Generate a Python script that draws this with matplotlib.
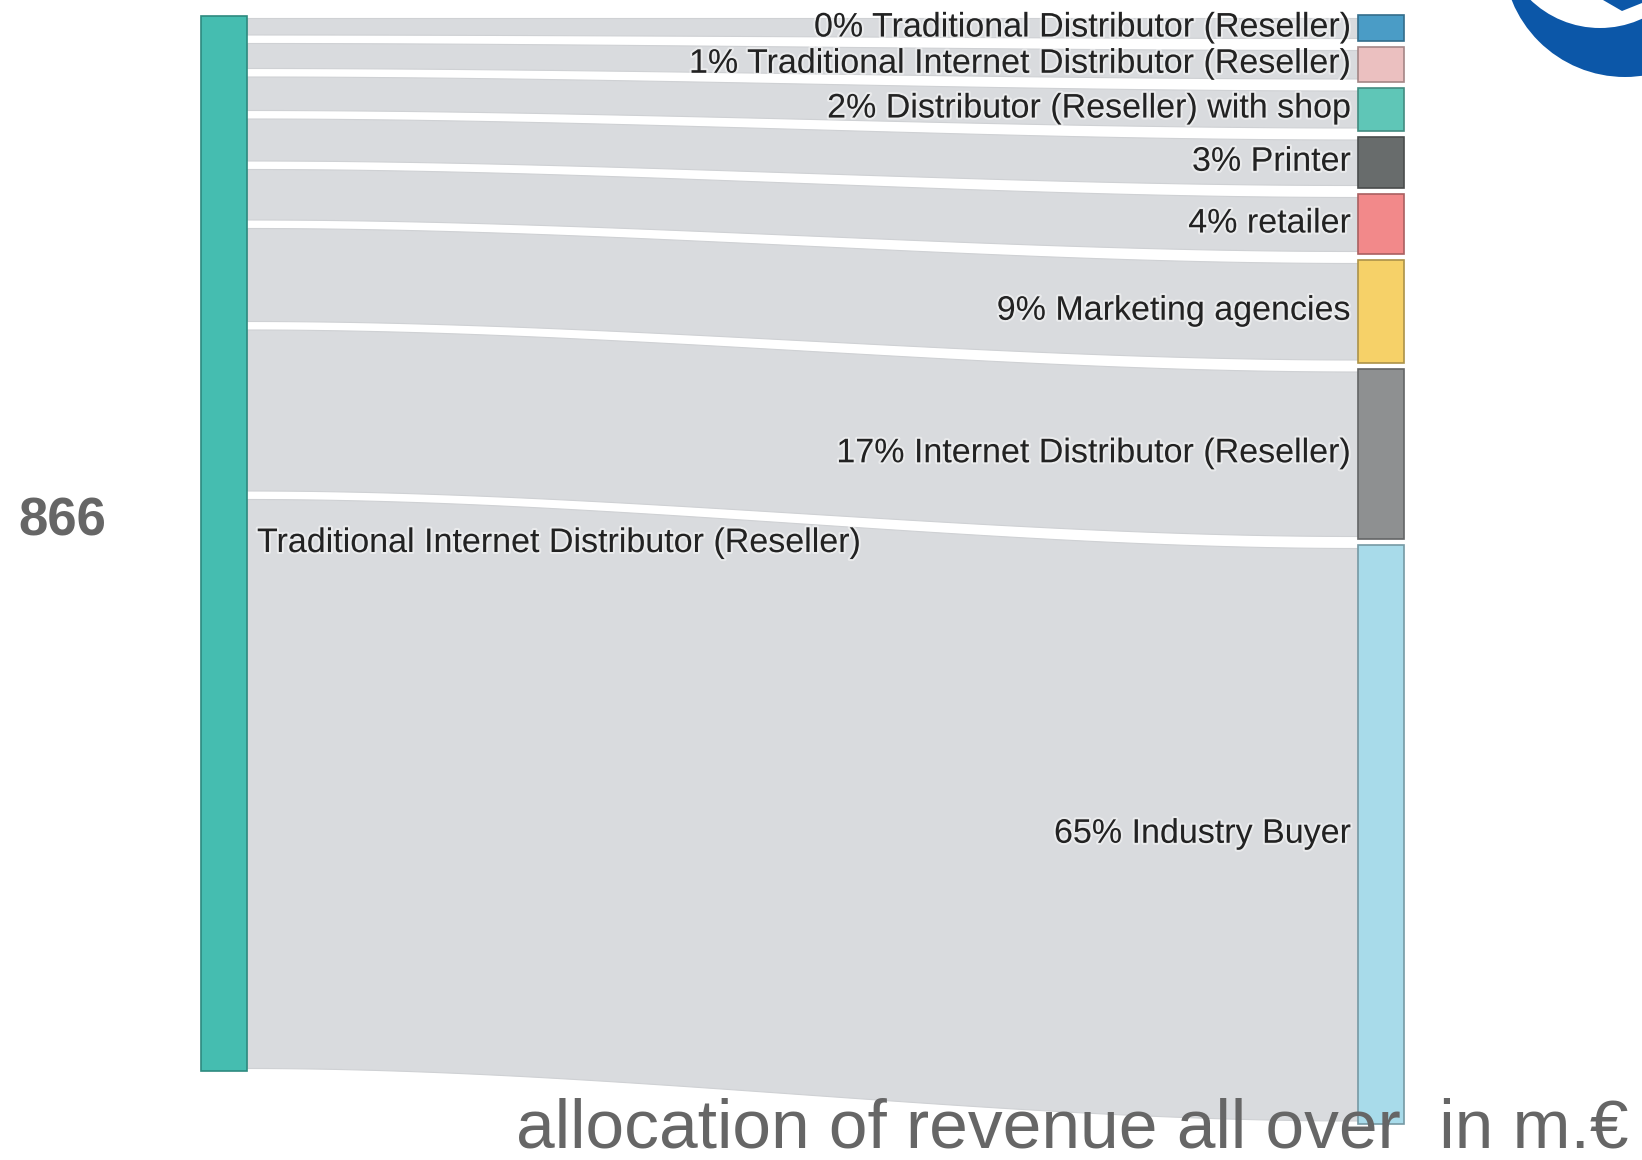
import numpy as np
import matplotlib.pyplot as plt
import matplotlib.patheffects as pe
from matplotlib.patches import Rectangle, Circle, Polygon

# revenue split of the traditional internet distributor, in m.€ and percent
total = 866
source_label = "Traditional Internet Distributor (Reseller)"
targets = [
    "Traditional Distributor (Reseller)",
    "Traditional Internet Distributor (Reseller)",
    "Distributor (Reseller) with shop",
    "Printer",
    "retailer",
    "Marketing agencies",
    "Internet Distributor (Reseller)",
    "Industry Buyer",
]
shares = [0, 1, 2, 3, 4, 9, 17, 65]
target_colors = ["#4a9cc6", "#ebc0c0", "#5fc6b7", "#686c6c",
                 "#f2898a", "#f6d168", "#8e9091", "#a8dbea"]
source_color = "#45bdb0"
flow_color = "#d9dbde"

plt.rcParams['font.family'] = ['Liberation Sans', 'DejaVu Sans']

W, H = 1642, 1160
fig = plt.figure(figsize=(W / 100, H / 100), dpi=100)
ax = fig.add_axes([0, 0, 1, 1])
ax.set_xlim(0, W)
ax.set_ylim(H, 0)
ax.axis('off')

# node geometry (pixels); each band gets a minimum thickness plus its share
px_per_pct = 8.5
lx0, lx1 = 201, 247
rx0, rx1 = 1358, 1404
left_min, left_gap, left_start = 16.5, 8.5, 18
right_min, right_gap, right_start = 26, 6, 15

left_top, left_bot = [], []
y = left_start
for s in shares:
    h = left_min + px_per_pct * s
    left_top.append(y)
    left_bot.append(y + h)
    y += h + left_gap

right_top, right_bot = [], []
y = right_start
for s in shares:
    h = right_min + px_per_pct * s
    right_top.append(y)
    right_bot.append(y + h)
    y += h + right_gap

# flows
xs = np.linspace(lx1, rx0, 200)
t = (xs - lx1) / (rx0 - lx1)
ease = 3 * t ** 2 - 2 * t ** 3
for i in range(len(shares)):
    top = left_top[i] + (right_top[i] + 3 - left_top[i]) * ease
    bot = left_bot[i] + (right_bot[i] - 3 - left_bot[i]) * ease
    ax.fill_between(xs, top, bot, color=flow_color, ec='#cfd1d4', lw=0.8, zorder=1)

# source node
node_top = left_top[0] - 2
node_bot = left_bot[-1] + 3
ax.add_patch(Rectangle((lx0, node_top), lx1 - lx0, node_bot - node_top,
                       fc=source_color, ec='#2e8a7f', lw=1.2, zorder=2))

halo = [pe.withStroke(linewidth=3, foreground='white', alpha=0.45)]
ax.text(lx1 + 10, (node_top + node_bot) / 2, source_label, fontsize=24.5,
        color='#222222', ha='left', va='center', path_effects=halo, zorder=4)

# target nodes and labels
for i, (name, s) in enumerate(zip(targets, shares)):
    c = target_colors[i]
    edge = tuple(v * 0.7 for v in plt.matplotlib.colors.to_rgb(c))
    ax.add_patch(Rectangle((rx0, right_top[i]), rx1 - rx0,
                           right_bot[i] - right_top[i],
                           fc=c, ec=edge, lw=1.2, zorder=2))
    ax.text(rx0 - 7, (right_top[i] + right_bot[i]) / 2, f"{s}% {name}",
            fontsize=24.5, color='#222222', ha='right', va='center',
            path_effects=halo, zorder=4)

# total and caption
ax.text(18, 522, str(total), fontsize=38, fontweight='bold', color='#666666',
        ha='left', va='center', zorder=4)
ax.text(1628, 1147, "allocation of revenue all over  in m.€", fontsize=50,
        color='#666666', ha='right', va='baseline', zorder=5)

# logo corner
ax.add_patch(Circle((1625, -45), 122, fc='#0c57a8', ec='none', zorder=3))
ax.add_patch(Circle((1600, -72), 100, fc='white', ec='none', zorder=3))
ax.add_patch(Polygon([(1603, 0), (1642, 0), (1642, 3), (1622, 11)],
                     closed=True, fc='#0c57a8', ec='none', zorder=3))

fig.savefig('out.png', dpi=100, facecolor='white')
